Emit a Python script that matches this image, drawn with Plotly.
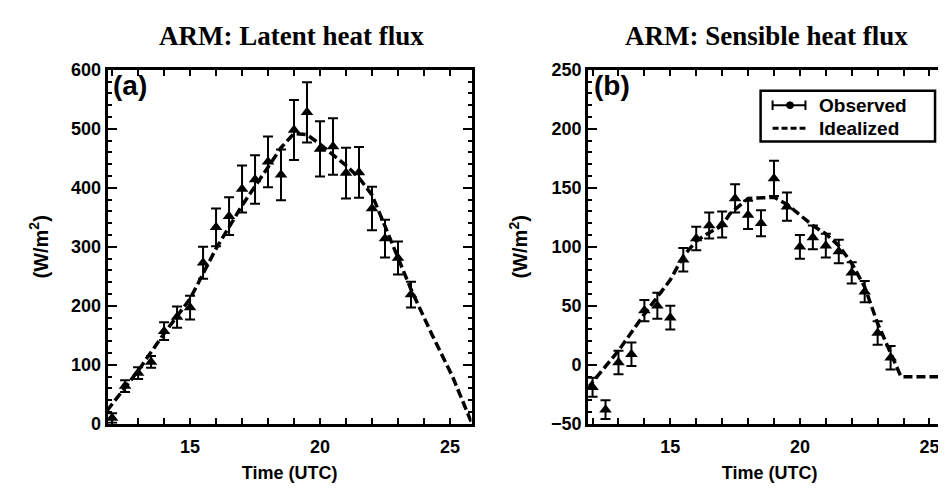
import plotly.graph_objects as go

# ---------------- data ----------------
obs_time = [12.0, 12.5, 13.0, 13.5, 14.0, 14.5, 15.0, 15.5, 16.0, 16.5, 17.0, 17.5,
            18.0, 18.5, 19.0, 19.5, 20.0, 20.5, 21.0, 21.5, 22.0, 22.5, 23.0, 23.5]

latent_obs = [10, 64, 86, 105, 157, 181, 197, 273, 333, 352, 398, 414,
              444, 422, 498, 528, 466, 470, 425, 426, 365, 314, 281, 219]
latent_err = [8, 10, 10, 10, 15, 18, 20, 27, 32, 32, 40, 41,
              43, 43, 51, 51, 47, 48, 43, 43, 37, 32, 28, 22]

latent_ideal_t = [11.8, 13.0, 14.0, 15.0, 16.0, 17.0, 18.0, 18.5, 19.0, 19.5, 20.0,
                  21.0, 21.5, 22.0, 22.5, 23.0, 23.5, 24.3, 25.1, 25.85]
latent_ideal_v = [22, 90, 153, 212, 297, 370, 435, 468, 492, 490, 474,
                  438, 417, 388, 335, 280, 228, 152, 80, 0]

sensible_obs = [-19, -38, 2, 9, 46, 50, 40, 89, 107, 118, 119, 141,
                127, 120, 158, 134, 100, 108, 101, 96, 78, 62, 27, 6]
sensible_err = [8, 8, 10, 10, 9, 11, 10, 10, 10, 11, 11, 12,
                12, 11, 15, 12, 10, 10, 10, 10, 9, 9, 10, 10]

sensible_ideal_t = [11.8, 13.0, 14.0, 15.0, 15.5, 16.0, 16.5, 17.0, 17.3, 18.0, 19.0,
                    19.5, 20.0, 20.5, 21.0, 21.5, 22.0, 22.5, 23.0, 23.5, 23.9, 26.0]
sensible_ideal_v = [-20, 12, 43, 72, 92, 105, 112, 118, 128, 141, 142,
                    136, 127, 118, 111, 101, 86, 66, 35, 10, -10, -10]

titles = ["ARM: Latent heat flux", "ARM: Sensible heat flux"]
panel_labels = ["(a)", "(b)"]
legend_names = ["Observed", "Idealized"]

# ---------------- figure ----------------
W, H = 946, 493
fig = go.Figure()

dash = "9px,4px"

fig.add_trace(go.Scatter(x=latent_ideal_t, y=latent_ideal_v, mode="lines",
                         line=dict(color="black", width=3.5, dash=dash),
                         xaxis="x", yaxis="y", showlegend=False))
fig.add_trace(go.Scatter(x=obs_time, y=latent_obs, mode="markers",
                         marker=dict(symbol="triangle-up", size=11, color="black"),
                         error_y=dict(type="data", array=latent_err, color="black",
                                      thickness=2, width=5),
                         xaxis="x", yaxis="y", showlegend=False))
fig.add_trace(go.Scatter(x=sensible_ideal_t, y=sensible_ideal_v, mode="lines",
                         line=dict(color="black", width=3.5, dash=dash),
                         xaxis="x2", yaxis="y2", showlegend=False))
fig.add_trace(go.Scatter(x=obs_time, y=sensible_obs, mode="markers",
                         marker=dict(symbol="triangle-up", size=11, color="black"),
                         error_y=dict(type="data", array=sensible_err, color="black",
                                      thickness=2, width=5),
                         xaxis="x2", yaxis="y2", showlegend=False))

tickfont = dict(family="Liberation Sans", size=18, color="black")
titlefont = dict(family="Liberation Sans", size=18, color="black")
axis_common = dict(showline=True, linewidth=3, linecolor="black", mirror="ticks",
                   ticks="inside", tickcolor="black", showgrid=False, zeroline=False,
                   tickfont=tickfont)

xa = dict(axis_common, range=[11.83, 25.83], dtick=5, tick0=0, ticklen=6, tickwidth=2,
          ticklabelstandoff=5,
          minor=dict(dtick=1, ticklen=6, tickwidth=2, ticks="inside", tickcolor="black"),
          title=dict(text="<b>Time (UTC)</b>", font=titlefont, standoff=10))
ydom = [70 / H, 439 / H]

fig.update_layout(
    width=W, height=H,
    margin=dict(l=0, r=0, t=0, b=0),
    paper_bgcolor="white", plot_bgcolor="white",
    showlegend=False,
    xaxis=dict(xa, domain=[100 / W, 465 / W], anchor="y"),
    xaxis2=dict(xa, domain=[582 / W, 1.0], anchor="y2"),
    yaxis=dict(axis_common, domain=ydom, range=[0, 600], dtick=100, ticklen=9, tickwidth=2,
               minor=dict(dtick=20, ticklen=4, tickwidth=2, ticks="inside", tickcolor="black"),
               anchor="x",
               title=dict(text="<b>(W/m<sup>2</sup>)</b>", font=dict(titlefont, size=20), standoff=18)),
    yaxis2=dict(axis_common, domain=ydom, range=[-50, 250], dtick=50, ticklen=9, tickwidth=2,
                minor=dict(dtick=10, ticklen=4, tickwidth=2, ticks="inside", tickcolor="black"),
                anchor="x2",
                title=dict(text="<b>(W/m<sup>2</sup>)</b>", font=dict(titlefont, size=20), standoff=18)),
)
fig.update_xaxes(tickprefix="<b>", ticksuffix="</b>")
fig.update_yaxes(tickprefix="<b>", ticksuffix="</b>")

# titles
for cx, t in zip([284, 761], titles):
    fig.add_annotation(text="<b>" + t + "</b>", x=cx / W, y=1 - 19 / H, xref="paper", yref="paper",
                       showarrow=False, xanchor="center", yanchor="middle",
                       font=dict(family="Liberation Serif", size=27, color="black"))

# panel labels
for ax, lab in zip(["x", "x2"], panel_labels):
    fig.add_annotation(text="<b>" + lab + "</b>", x=0.01, y=0.955,
                       xref=ax + " domain", yref=("y" if ax == "x" else "y2") + " domain",
                       showarrow=False, xanchor="left", yanchor="middle",
                       font=dict(family="Liberation Sans", size=28, color="black"))

# manual legend in panel (b)
def px_x(p):
    return (p - 582) / 364

def px_y(p):
    return (423 - p) / 370

xr, yr = "x2 domain", "y2 domain"
fig.add_shape(type="rect", xref=xr, yref=yr, x0=px_x(755), x1=px_x(930),
              y0=px_y(128), y1=px_y(75), line=dict(color="black", width=2.5),
              fillcolor="white", layer="above")
# observed symbol
fig.add_shape(type="line", xref=xr, yref=yr, x0=px_x(767), x1=px_x(800),
              y0=px_y(90), y1=px_y(90), line=dict(color="black", width=2))
for xx in [767, 800]:
    fig.add_shape(type="line", xref=xr, yref=yr, x0=px_x(xx), x1=px_x(xx),
                  y0=px_y(85), y1=px_y(95), line=dict(color="black", width=2))
fig.add_shape(type="circle", xref=xr, yref=yr, x0=px_x(781), x1=px_x(788),
              y0=px_y(93.5), y1=px_y(86.5), line=dict(color="black", width=1),
              fillcolor="black")
# idealized symbol
fig.add_shape(type="line", xref=xr, yref=yr, x0=px_x(767), x1=px_x(800),
              y0=px_y(114), y1=px_y(114), line=dict(color="black", width=3, dash="6px,3px"))
for yy, name in zip([90, 114], legend_names):
    fig.add_annotation(text="<b>" + name + "</b>", x=px_x(812), y=px_y(yy),
                       xref=xr, yref=yr, showarrow=False, xanchor="left", yanchor="middle",
                       font=dict(family="Liberation Sans", size=19, color="black"))

fig.write_html("out.html")
